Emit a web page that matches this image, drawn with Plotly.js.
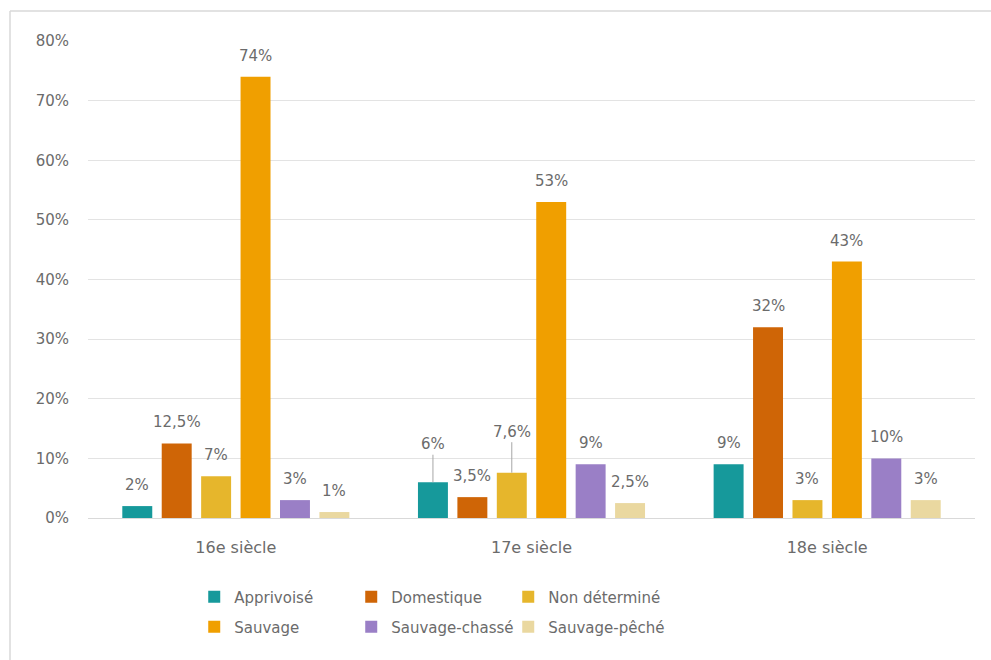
<!DOCTYPE html>
<html>
<head>
<meta charset="utf-8">
<script src="https://cdn.plot.ly/plotly-3.0.1.min.js"></script>
<style>html,body{margin:0;padding:0;background:#fff;}#chart{width:991px;height:660px;}</style>
</head>
<body>
<div id="chart"></div>
<script>
const categories = ["16e siècle", "17e siècle", "18e siècle"];
const seriesNames = ["Apprivoisé", "Domestique", "Non déterminé", "Sauvage", "Sauvage-chassé", "Sauvage-pêché"];
const apprivoise = [0.02, 0.06, 0.09];
const domestique = [0.125, 0.035, 0.32];
const nonDetermine = [0.07, 0.076, 0.03];
const sauvage = [0.74, 0.53, 0.43];
const sauvageChasse = [0.03, 0.09, 0.10];
const sauvagePeche = [0.01, 0.025, 0.03];
const yTickVals = [0, 0.1, 0.2, 0.3, 0.4, 0.5, 0.6, 0.7, 0.8];

const seriesValues = [apprivoise, domestique, nonDetermine, sauvage, sauvageChasse, sauvagePeche];
const colors = ["#16999b", "#cf6506", "#e6b62c", "#f09f00", "#9a7fc6", "#ead8a0"];
// labels drawn with a leader line: (series index, category index) -> pixel offset
const leaderLabels = {"0,1": 38, "2,1": 41};

const fontFam = "DejaVu Sans, sans-serif";
const grey = "#6b6b6b";
const bargap = 0.2;
const nS = seriesValues.length;

function fmt(v) {
  return (Math.round(v * 1000) / 10).toString().replace(".", ",") + "%";
}

const traces = seriesValues.map((vals, i) => ({
  type: "bar",
  name: seriesNames[i],
  x: categories,
  y: vals,
  marker: {color: colors[i]},
  legend: i < 3 ? "legend" : "legend2",
  hoverinfo: "skip"
}));

const annotations = [];
seriesValues.forEach((vals, i) => {
  vals.forEach((v, j) => {
    const slot = (1 - bargap) / nS;
    const xPos = j - (1 - bargap) / 2 + (i + 0.5) * slot;
    const key = i + "," + j;
    if (leaderLabels[key] !== undefined) {
      annotations.push({
        x: xPos, y: v, xref: "x", yref: "y",
        text: fmt(v), showarrow: true, arrowhead: 0, arrowwidth: 1,
        arrowcolor: "#a6a6a6", ax: 0, ay: -leaderLabels[key], standoff: 0,
        font: {family: fontFam, size: 15, color: grey}
      });
    } else {
      annotations.push({
        x: xPos, y: v, xref: "x", yref: "y",
        text: fmt(v), showarrow: false, yanchor: "middle", yshift: 21,
        font: {family: fontFam, size: 15, color: grey}
      });
    }
  });
});

const legendCommon = {
  orientation: "h", xref: "container", yref: "container",
  xanchor: "left", yanchor: "middle",
  entrywidth: 112, entrywidthmode: "pixels",
  itemwidth: 30, tracegroupgap: 0,
  font: {family: fontFam, size: 15, color: grey},
  bgcolor: "rgba(0,0,0,0)", itemclick: false, itemdoubleclick: false
};

const layout = {
  width: 991, height: 660,
  margin: {l: 88, r: 16, t: 41, b: 142},
  paper_bgcolor: "#ffffff", plot_bgcolor: "#ffffff",
  barmode: "group", bargap: bargap, bargroupgap: 0.24,
  showlegend: true,
  legend: Object.assign({}, legendCommon, {x: 0.196, y: 1 - 597 / 660}),
  legend2: Object.assign({}, legendCommon, {x: 0.196, y: 1 - 627 / 660}),
  xaxis: {
    type: "category", showgrid: false, showline: false, zeroline: false,
    ticks: "", tickfont: {family: fontFam, size: 16, color: grey},
    ticklabelstandoff: 18
  },
  yaxis: {
    range: [0, 0.8], tickvals: yTickVals, tickformat: ".0%",
    showgrid: true, gridcolor: "#e3e3e3", gridwidth: 1,
    zeroline: true, zerolinecolor: "#d9d9d9", zerolinewidth: 1,
    showline: false, ticks: "",
    tickfont: {family: fontFam, size: 15, color: grey},
    ticklabelstandoff: 18
  },
  annotations: annotations,
  shapes: [
    {type: "line", xref: "paper", yref: "paper", x0: (10 - 88) / 887, x1: (991 - 88) / 887,
     y0: (518 - 11) / 477, y1: (518 - 11) / 477, line: {color: "#d9d9d9", width: 1.5}},
    {type: "line", xref: "paper", yref: "paper", x0: (10 - 88) / 887, x1: (10 - 88) / 887,
     y0: (518 - 11) / 477, y1: (518 - 660) / 477, line: {color: "#d9d9d9", width: 1.5}}
  ]
};

Plotly.newPlot("chart", traces, layout, {displayModeBar: false, staticPlot: true});
</script>
</body>
</html>
